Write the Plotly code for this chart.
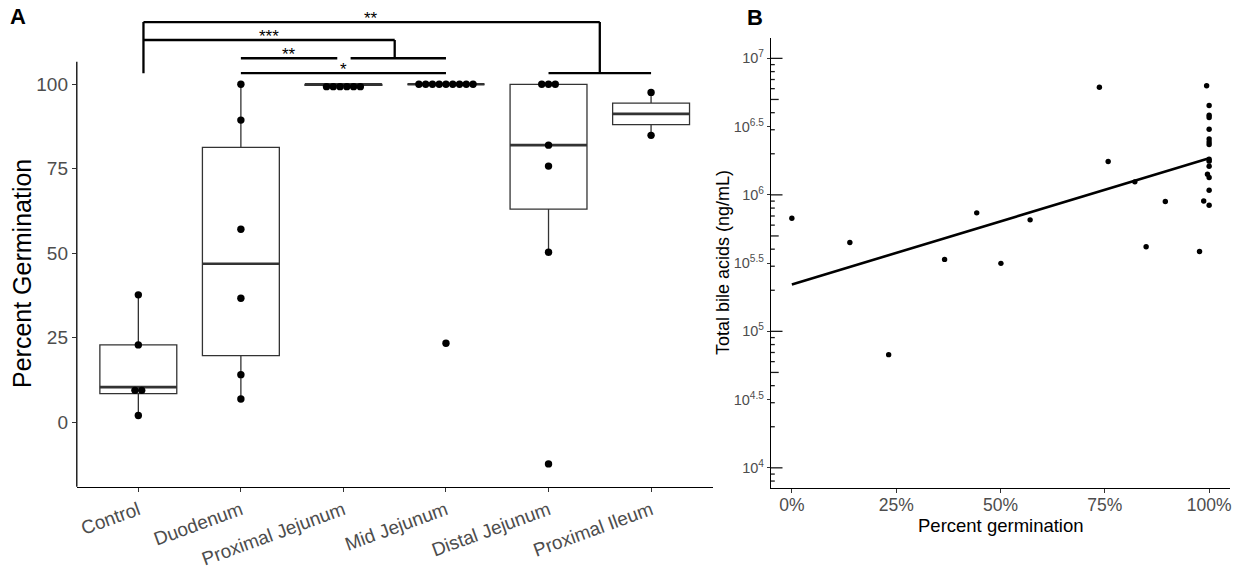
import numpy as np
import plotly.graph_objects as go

# ---------------- Panel A data (percent germination) ----------------
categories = ["Control", "Duodenum", "Proximal Jejunum", "Mid Jejunum",
              "Distal Jejunum", "Proximal Ileum"]
control = [2.0, 8.5, 10.4, 22.9, 37.7]
duodenum = [6.9, 14.1, 36.7, 57.1, 89.4, 100.0]
proximal_jejunum = [98.6, 99.6, 100.0, 100.0, 100.0, 100.0]
mid_jejunum = [23.4, 100.0, 100.0, 100.0, 100.0, 100.0, 100.0, 100.0, 100.0, 100.0]
distal_jejunum = [-12.3, 50.3, 75.8, 82.0, 100.0, 100.0, 100.0]
proximal_ileum = [84.9, 97.6]
groups = [control, duodenum, proximal_jejunum, mid_jejunum, distal_jejunum, proximal_ileum]
a_yticks = [0, 25, 50, 75, 100]

# significance brackets (category units, percent units)
bracket_h = [  # x0, x1, y
    (1.05, 5.50, 118.4), (5.00, 6.00, 103.3),
    (1.05, 3.50, 113.1), (3.07, 4.00, 107.7),
    (2.00, 2.94, 107.7), (2.00, 4.00, 103.3),
]
bracket_v = [  # x, y0, y1
    (1.05, 103.3, 118.4), (5.50, 103.3, 118.4), (3.50, 107.7, 113.1),
]
sig_labels = ["**", "***", "**", "*"]
sig_x = [3.27, 2.27, 2.47, 3.00]
sig_y = [118.4, 113.1, 107.7, 103.3]

# ---------------- Panel B data ----------------
germination_pct = [0.0, 13.9, 23.2, 36.6, 44.3, 50.1, 57.1, 73.7, 75.8, 82.2,
                   84.9, 89.5, 97.7, 98.7,
                   99.4, 100, 100, 100, 100, 100, 100, 100, 100, 100, 100, 99.6,
                   100, 100, 100]
bile_acids = [674000, 448000, 67500, 336500, 738000, 315000, 656000, 6140000,
              1754000, 1245000, 417000, 893000, 385000, 902000,
              6295000, 4519000, 3837000, 3690000, 3027000, 2570000, 2443000,
              2339000, 1824000, 1766000, 1622000, 1416000, 1340000, 1081000,
              839000]
b_xticks = [0, 25, 50, 75, 100]
b_xticklabels = ["0%", "25%", "50%", "75%", "100%"]
b_ytick_exp = [4, 4.5, 5, 5.5, 6, 6.5, 7]

# ---------------- layout constants ----------------
W, H = 1243, 571
FONT = "Liberation Sans, Arial, Helvetica, sans-serif"
TICK_COL = "#4D4D4D"

A_xdom = [76.8 / W, 712.6 / W]
A_ydom = [1 - 486.7 / H, 1 - 13.3 / H]
A_yrange = [-19.05, 121.0]
A_axis_top = 106.7
B_xdom = [771.0 / W, 1230.0 / W]
B_ydom = [1 - 488.3 / H, 1 - 37.9 / H]
B_yrange = [3.85, 7.15]

BOX_W = 0.75
DOT_STEP = 0.066

fig = go.Figure()

# ---- box statistics computed from the data ----
pos = list(range(1, len(categories) + 1))
q1s, meds, q3s, lows, highs = [], [], [], [], []
for g in groups:
    a = np.array(g, dtype=float)
    q1, med, q3 = np.percentile(a, [25, 50, 75])
    iqr = q3 - q1
    lo = a[a >= q1 - 1.5 * iqr].min()
    hi = a[a <= q3 + 1.5 * iqr].max()
    q1s.append(q1); meds.append(med); q3s.append(q3); lows.append(lo); highs.append(hi)

fig.add_trace(go.Box(
    x=pos, q1=q1s, median=meds, q3=q3s, lowerfence=lows, upperfence=highs,
    width=BOX_W, whiskerwidth=0, fillcolor="white",
    line=dict(color="#333333", width=1.3), boxpoints=False,
    xaxis="x", yaxis="y", hoverinfo="skip"))

# thicker median lines
mx, my = [], []
for p, m in zip(pos, meds):
    mx += [p - BOX_W / 2, p + BOX_W / 2, None]
    my += [m, m, None]
fig.add_trace(go.Scatter(x=mx, y=my, mode="lines",
                         line=dict(color="#333333", width=2.6),
                         xaxis="x", yaxis="y", hoverinfo="skip"))

# ---- dot plot (dot-density binning, centred stacks) ----
all_vals = [v for g in groups for v in g]
binwidth = (max(all_vals) - min(all_vals)) / 30.0


def dotdensity(vals, bw):
    s = sorted(vals)
    out = []
    i = 0
    while i < len(s):
        j = i
        while j + 1 < len(s) and s[j + 1] - s[i] < bw:
            j += 1
        grp = s[i:j + 1]
        out.append(((grp[0] + grp[-1]) / 2.0, len(grp)))
        i = j + 1
    return out


dx, dy = [], []
for p, g in zip(pos, groups):
    for c, n in dotdensity(g, binwidth):
        for k in range(n):
            dx.append(p + (k - (n - 1) / 2.0) * DOT_STEP)
            dy.append(c)
fig.add_trace(go.Scatter(x=dx, y=dy, mode="markers",
                         marker=dict(color="black", size=7.4),
                         xaxis="x", yaxis="y", hoverinfo="skip", cliponaxis=False))

# ---- Panel B ----
gx = np.array(germination_pct, dtype=float)
gy = np.array(bile_acids, dtype=float)
slope, icpt = np.polyfit(gx, np.log10(gy), 1)
fx = np.array([gx.min(), gx.max()])
fy = 10 ** (icpt + slope * fx)
fig.add_trace(go.Scatter(x=fx, y=fy, mode="lines",
                         line=dict(color="black", width=2.6),
                         xaxis="x2", yaxis="y2", hoverinfo="skip"))
fig.add_trace(go.Scatter(x=gx, y=gy, mode="markers",
                         marker=dict(color="black", size=5.4),
                         xaxis="x2", yaxis="y2", hoverinfo="skip"))

# ---- shapes ----
shapes = [dict(type="line", xref="paper", yref="paper",
               x0=A_xdom[0], x1=A_xdom[0], y0=A_ydom[0],
               y1=A_ydom[0] + (A_axis_top - A_yrange[0]) / (A_yrange[1] - A_yrange[0])
               * (A_ydom[1] - A_ydom[0]),
               line=dict(color="black", width=1.3))]
for x0, x1, y in bracket_h:
    shapes.append(dict(type="line", xref="x", yref="y", x0=x0, x1=x1, y0=y, y1=y,
                       line=dict(color="black", width=2.3)))
for x, y0, y1 in bracket_v:
    shapes.append(dict(type="line", xref="x", yref="y", x0=x, x1=x, y0=y0, y1=y1,
                       line=dict(color="black", width=2.3)))


# log ticks inside panel B (annotation_logticks style)
def b_paper_y(v):
    return B_ydom[0] + (np.log10(v) - B_yrange[0]) / (B_yrange[1] - B_yrange[0]) * (B_ydom[1] - B_ydom[0])


for k in range(3, 8):
    for m in range(1, 10):
        v = m * 10 ** k
        lv = np.log10(v)
        if lv < B_yrange[0] or lv > B_yrange[1]:
            continue
        L = 11.5 if m == 1 else (7.7 if m == 5 else 3.8)
        yy = b_paper_y(v)
        shapes.append(dict(type="line", xref="paper", yref="paper",
                           x0=B_xdom[0], x1=B_xdom[0] + L / W, y0=yy, y1=yy,
                           line=dict(color="#1a1a1a", width=1.3)))

annotations = []
for t, x, y in zip(sig_labels, sig_x, sig_y):
    annotations.append(dict(text=t, x=x, y=y, xref="x", yref="y", showarrow=False,
                            xanchor="center", yanchor="middle", yshift=4,
                            font=dict(size=17, color="black", family=FONT)))
annotations += [
    dict(text="<b>A</b>", x=18 / W, y=1 - 17 / H, xref="paper", yref="paper",
         showarrow=False, xanchor="center", yanchor="middle",
         font=dict(size=22, color="black", family=FONT)),
    dict(text="<b>B</b>", x=755 / W, y=1 - 18 / H, xref="paper", yref="paper",
         showarrow=False, xanchor="center", yanchor="middle",
         font=dict(size=22, color="black", family=FONT)),
    dict(text="Percent Germination", x=22 / W, y=1 - 274 / H, xref="paper", yref="paper",
         showarrow=False, textangle=-90, xanchor="center", yanchor="middle",
         font=dict(size=25, color="black", family=FONT)),
    dict(text="Total bile acids (ng/mL)", x=723 / W, y=1 - 263 / H, xref="paper",
         yref="paper", showarrow=False, textangle=-90, xanchor="center",
         yanchor="middle", font=dict(size=18, color="black", family=FONT)),
    dict(text="Percent germination", x=1000.5 / W, y=1 - 525 / H, xref="paper",
         yref="paper", showarrow=False, xanchor="center", yanchor="middle",
         font=dict(size=18.5, color="black", family=FONT)),
]

fig.update_layout(
    width=W, height=H, margin=dict(l=0, r=0, t=0, b=0),
    paper_bgcolor="white", plot_bgcolor="white", showlegend=False,
    font=dict(family=FONT),
    shapes=shapes, annotations=annotations,
    xaxis=dict(domain=A_xdom, range=[0.4, 6.6], anchor="y",
               tickmode="array", tickvals=pos, ticktext=categories, tickangle=-20,
               ticks="outside", ticklen=4, tickwidth=1.2, tickcolor="#333333",
               showline=True, linecolor="black", linewidth=1.3,
               showgrid=False, zeroline=False, automargin=False,
               tickfont=dict(size=19, color=TICK_COL, family=FONT)),
    yaxis=dict(domain=A_ydom, range=A_yrange, anchor="x",
               tickmode="array", tickvals=a_yticks,
               ticks="outside", ticklen=4, tickwidth=1.2, tickcolor="#333333",
               showline=False, showgrid=False, zeroline=False, automargin=False,
               tickfont=dict(size=19, color=TICK_COL, family=FONT)),
    xaxis2=dict(domain=B_xdom, range=[-5, 105], anchor="y2",
                tickmode="array", tickvals=b_xticks, ticktext=b_xticklabels,
                ticks="outside", ticklen=4, tickwidth=1.2, tickcolor="#333333",
                ticklabelstandoff=-3,
                showline=True, linecolor="black", linewidth=1.3,
                showgrid=False, zeroline=False, automargin=False,
                tickfont=dict(size=17.5, color=TICK_COL, family=FONT)),
    yaxis2=dict(domain=B_ydom, type="log", range=B_yrange, anchor="x2",
                tickmode="array", tickvals=[10 ** e for e in b_ytick_exp],
                ticktext=["10<sup>%s</sup>" % (int(e) if float(e).is_integer() else e)
                          for e in b_ytick_exp],
                ticks="outside", ticklen=3, tickwidth=1.2, tickcolor="#333333",
                showline=True, linecolor="black", linewidth=1.3,
                showgrid=False, zeroline=False, automargin=False,
                tickfont=dict(size=14.5, color=TICK_COL, family=FONT)),
)

fig.write_html("out.html")
